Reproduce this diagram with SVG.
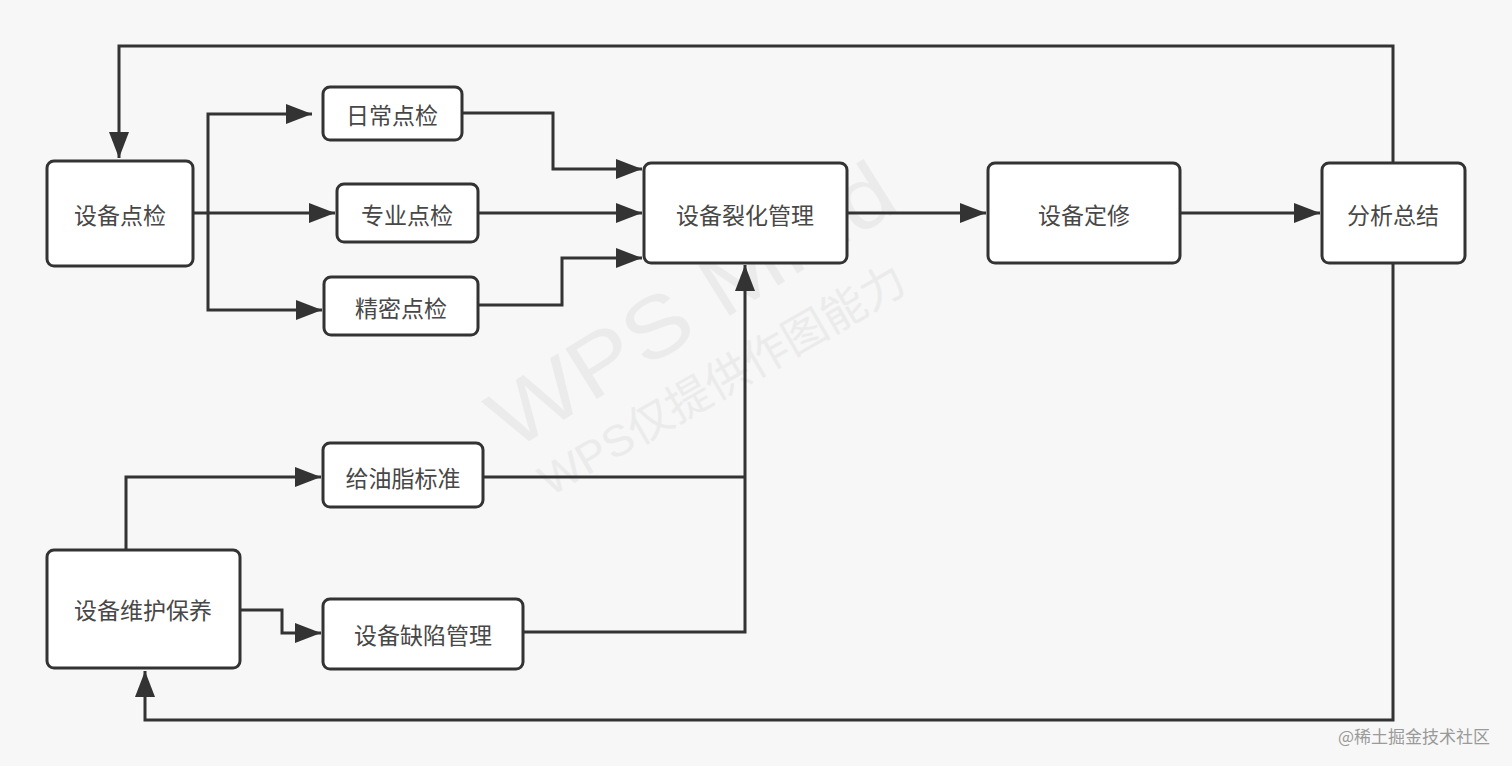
<svg xmlns="http://www.w3.org/2000/svg" width="1512" height="766" viewBox="0 0 1512 766">
<defs>
<marker id="arr" markerUnits="userSpaceOnUse" markerWidth="28" markerHeight="22" refX="26" refY="10" orient="auto">
<path d="M0,0 L26,10 L0,20 z" fill="#333"/>
</marker>
<style>
.bg{fill:#f7f7f7}
.node rect{fill:#fff;stroke:#333;stroke-width:3}
.node text{font-family:"Noto Sans CJK SC","Noto Sans",sans-serif;font-size:23px;fill:#484848;text-anchor:middle;dominant-baseline:central}
.edges path{fill:none;stroke:#333;stroke-width:3;stroke-linejoin:miter}
.edges .a{marker-end:url(#arr)}
.wm{font-family:"Liberation Sans","Noto Sans CJK SC",sans-serif;fill:#ebebeb}
</style>
</defs>
<rect class="bg" x="0" y="0" width="1512" height="766"/>
<g id="watermark">
<text class="wm" x="0" y="0" font-size="86" textLength="460" lengthAdjust="spacingAndGlyphs" transform="translate(512,452) rotate(-32)">WPS Mind</text>
<text class="wm" x="0" y="0" font-size="44" textLength="415" lengthAdjust="spacingAndGlyphs" transform="translate(550,497) rotate(-30)">WPS仅提供作图能力</text>
</g>
<g class="edges" id="connectors">
<path class="a" d="M193,213 H335"/>
<path class="a" d="M208,213 V114 H312"/>
<path class="a" d="M208,213 V310 H322"/>
<path class="a" d="M462,113 H553 V169 H642"/>
<path class="a" d="M478,213 H642"/>
<path class="a" d="M478,305 H562 V258 H642"/>
<path class="a" d="M847,213 H986"/>
<path class="a" d="M1180,213 H1320"/>
<path class="a" d="M1393,163 V46 H119 V158"/>
<path class="a" d="M1393,263 V720 H145 V671"/>
<path class="a" d="M126,550 V477 H321"/>
<path class="a" d="M240,610 H282 V633 H321"/>
<path d="M483,477 H745"/>
<path class="a" d="M523,632 H745 V265"/>
</g>
<g class="node" id="n-sbdj"><rect x="47" y="161" width="146" height="105" rx="7"/><text x="120" y="214">设备点检</text></g>
<g class="node" id="n-rcdj"><rect x="323" y="87" width="139" height="53" rx="7"/><text x="392" y="114">日常点检</text></g>
<g class="node" id="n-zydj"><rect x="337" y="184" width="141" height="58" rx="7"/><text x="407" y="214">专业点检</text></g>
<g class="node" id="n-jmdj"><rect x="324" y="277" width="154" height="58" rx="7"/><text x="401" y="307">精密点检</text></g>
<g class="node" id="n-lhgl"><rect x="644" y="163" width="203" height="100" rx="7"/><text x="745" y="214">设备裂化管理</text></g>
<g class="node" id="n-dx"><rect x="988" y="163" width="192" height="100" rx="7"/><text x="1084" y="214">设备定修</text></g>
<g class="node" id="n-fxzj"><rect x="1322" y="163" width="143" height="100" rx="7"/><text x="1393" y="214">分析总结</text></g>
<g class="node" id="n-gyz"><rect x="323" y="443" width="160" height="64" rx="7"/><text x="403" y="477">给油脂标准</text></g>
<g class="node" id="n-whby"><rect x="47" y="550" width="193" height="118" rx="7"/><text x="143" y="609">设备维护保养</text></g>
<g class="node" id="n-qxgl"><rect x="323" y="599" width="200" height="70" rx="7"/><text x="423" y="634">设备缺陷管理</text></g>
<text x="1490" y="735" font-family="Noto Sans CJK SC,sans-serif" font-size="17" fill="#9a9a9a" text-anchor="end" dominant-baseline="central">@稀土掘金技术社区</text>
</svg>
